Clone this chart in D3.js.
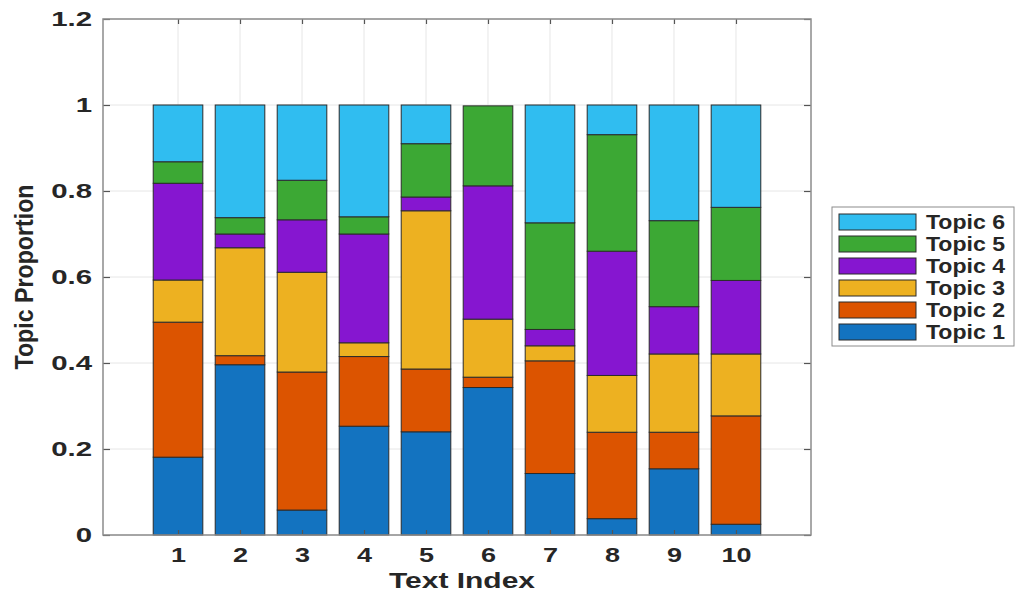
<!DOCTYPE html>
<html>
<head>
<meta charset="utf-8">
<script src="https://cdn.jsdelivr.net/npm/d3@7"></script>
<style>
  html, body { margin: 0; padding: 0; background: #fff; }
  svg { display: block; }
  text { font-family: "Liberation Sans", Arial, sans-serif; font-weight: bold; fill: #262626; }
</style>
</head>
<body>
<svg id="chart" width="1016" height="597"></svg>
<script>
// Topic proportions per text (stacked bottom to top: Topic 1 .. Topic 6)
const categories = [1, 2, 3, 4, 5, 6, 7, 8, 9, 10];
const topic1 = [0.181, 0.396, 0.058, 0.253, 0.240, 0.343, 0.143, 0.038, 0.154, 0.025];
const topic2 = [0.314, 0.021, 0.321, 0.162, 0.146, 0.024, 0.262, 0.201, 0.085, 0.252];
const topic3 = [0.098, 0.251, 0.232, 0.032, 0.368, 0.135, 0.035, 0.132, 0.182, 0.144];
const topic4 = [0.225, 0.032, 0.122, 0.253, 0.032, 0.310, 0.038, 0.289, 0.110, 0.171];
const topic5 = [0.050, 0.038, 0.092, 0.040, 0.124, 0.186, 0.248, 0.271, 0.200, 0.170];
const topic6 = [0.132, 0.262, 0.175, 0.260, 0.090, 0.000, 0.274, 0.069, 0.269, 0.238];
const seriesNames = ["Topic 1", "Topic 2", "Topic 3", "Topic 4", "Topic 5", "Topic 6"];
const yTicks = [0, 0.2, 0.4, 0.6, 0.8, 1, 1.2];
const yTickLabels = ["0", "0.2", "0.4", "0.6", "0.8", "1", "1.2"];

const colors = ["#1373c0", "#dc5400", "#edb121", "#8616d0", "#3ca834", "#30bdf0"];

const svg = d3.select("#chart");
const plot = { left: 103, right: 811, top: 19, bottom: 535 };

const x = d3.scaleLinear().domain([1 - 1.21, 10 + 1.21]).range([plot.left, plot.right]);
const y = d3.scaleLinear().domain([0, 1.2]).range([plot.bottom, plot.top]);
const barWidth = (x(1.8) - x(1));

const table = categories.map((c, i) => ({
  idx: c,
  "Topic 1": topic1[i], "Topic 2": topic2[i], "Topic 3": topic3[i],
  "Topic 4": topic4[i], "Topic 5": topic5[i], "Topic 6": topic6[i]
}));
const stacked = d3.stack().keys(seriesNames)(table);

// stretch text horizontally by a factor
function stretch(sel, k) {
  sel.each(function () {
    const w = this.getComputedTextLength();
    d3.select(this).attr("textLength", w * k).attr("lengthAdjust", "spacingAndGlyphs");
  });
}

// grid
const grid = svg.append("g");
grid.selectAll("line.h").data(yTicks).join("line")
  .attr("x1", plot.left).attr("x2", plot.right)
  .attr("y1", d => y(d)).attr("y2", d => y(d))
  .attr("stroke", "#e6e6e6").attr("stroke-width", 1);
grid.selectAll("line.v").data(categories).join("line")
  .attr("x1", d => x(d)).attr("x2", d => x(d))
  .attr("y1", plot.top).attr("y2", plot.bottom)
  .attr("stroke", "#e6e6e6").attr("stroke-width", 1);

// bars (empty segments are skipped)
svg.append("g").selectAll("g").data(stacked).join("g")
  .attr("fill", (d, i) => colors[i])
  .selectAll("rect").data(d => d.filter(s => s[1] - s[0] > 0)).join("rect")
  .attr("x", d => x(d.data.idx) - barWidth / 2)
  .attr("width", barWidth)
  .attr("y", d => y(d[1]))
  .attr("height", d => y(d[0]) - y(d[1]))
  .attr("stroke", "#2b2b2b").attr("stroke-width", 1);

// axes
const xAxis = svg.append("g").attr("transform", `translate(0,${plot.bottom})`)
  .call(d3.axisBottom(x).tickValues(categories).tickFormat(d3.format("d")).tickSize(-5).tickPadding(13));
const yAxis = svg.append("g").attr("transform", `translate(${plot.left},0)`)
  .call(d3.axisLeft(y).tickValues(yTicks).tickFormat((d, i) => yTickLabels[i]).tickSize(-7).tickPadding(11));
const xTop = svg.append("g").attr("transform", `translate(0,${plot.top})`)
  .call(d3.axisTop(x).tickValues(categories).tickFormat("").tickSize(-5));
const yRight = svg.append("g").attr("transform", `translate(${plot.right},0)`)
  .call(d3.axisRight(y).tickValues(yTicks).tickFormat("").tickSize(-7));

[xAxis, yAxis, xTop, yRight].forEach(g => {
  g.select(".domain").remove();
  g.selectAll(".tick line").attr("stroke", "#555").attr("stroke-width", 1.2);
  g.selectAll("text").attr("font-family", null).attr("fill", "#262626");
});
xAxis.selectAll("text").attr("font-size", 20).call(stretch, 1.35);
yAxis.selectAll("text").attr("font-size", 21).call(stretch, 1.4);

// box
svg.append("rect")
  .attr("x", plot.left).attr("y", plot.top)
  .attr("width", plot.right - plot.left).attr("height", plot.bottom - plot.top)
  .attr("fill", "none").attr("stroke", "#8c8c8c").attr("stroke-width", 1.5);

// axis titles
svg.append("text")
  .attr("x", 462).attr("y", 588)
  .attr("text-anchor", "middle").attr("font-size", 22)
  .attr("textLength", 146).attr("lengthAdjust", "spacingAndGlyphs")
  .text("Text Index");
svg.append("text")
  .attr("transform", `translate(33,${(plot.top + plot.bottom) / 2}) rotate(-90)`)
  .attr("text-anchor", "middle").attr("font-size", 25)
  .attr("textLength", 185).attr("lengthAdjust", "spacingAndGlyphs")
  .text("Topic Proportion");

// legend (Topic 6 at top)
const legend = svg.append("g");
legend.append("rect")
  .attr("x", 832).attr("y", 207).attr("width", 182).attr("height", 139)
  .attr("fill", "#fff").attr("stroke", "#8c8c8c").attr("stroke-width", 1);
const order = seriesNames.map((n, i) => i).reverse();
const rows = legend.selectAll("g").data(order).join("g")
  .attr("transform", (d, j) => `translate(0,${222 + j * 22})`);
rows.append("rect")
  .attr("x", 839).attr("y", -8).attr("width", 77).attr("height", 16)
  .attr("fill", d => colors[d]).attr("stroke", "#2b2b2b").attr("stroke-width", 1);
rows.append("text")
  .attr("x", 926).attr("y", 6.5).attr("font-size", 19.5)
  .attr("textLength", 79).attr("lengthAdjust", "spacingAndGlyphs")
  .text(d => seriesNames[d]);
</script>
</body>
</html>
